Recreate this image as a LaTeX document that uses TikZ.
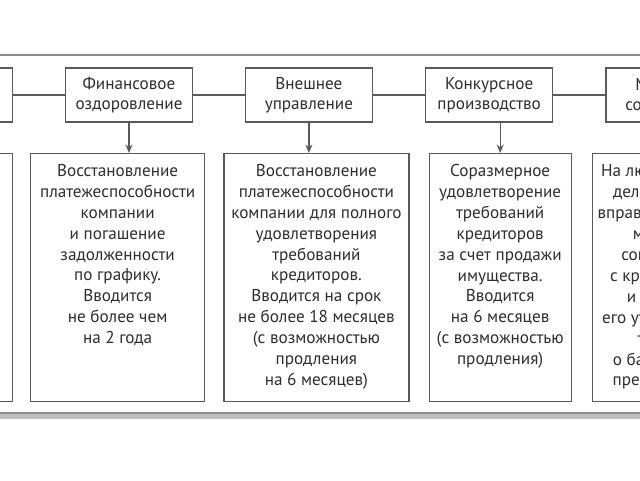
\documentclass[tikz,border=0pt]{standalone}
\usepackage{fontspec}
\setmainfont{PT Sans}
\usepackage{tikz}
\usetikzlibrary{positioning, shadows, arrows.meta}
\definecolor{boxline}{HTML}{5A5A5A}
\definecolor{txt}{HTML}{2E2E2E}
\definecolor{framegray}{HTML}{8C8C8C}
\tikzstyle{stage} = [rectangle, minimum width=3.175cm, minimum height=1.35cm, align=center, draw=boxline, line width=0.9pt, text=txt, font=\fontsize{12.2}{14.2}\selectfont]
\tikzstyle{info} = [rectangle, minimum height=6.2cm, draw=boxline, line width=0.9pt]
\tikzstyle{infotext} = [align=center, text=txt, inner sep=0pt, font=\fontsize{12.2}{14.9}\selectfont]

\begin{document}
\begin{tikzpicture}
		\path[use as bounding box, clip] (0,0) rectangle (16,-12);
		\draw[framegray, line width=1.4pt, fill=white, drop shadow={shadow xshift=0pt, shadow yshift=-4pt, opacity=0.5}] (-1,-1.375) rectangle (17,-10.325);
		% stages
		\node (Fin)[stage] at (3.225,-2.375) {Финансовое\\оздоровление};
		\node (Obs)[stage, left = 1.3cm of Fin] {};
		\node (Ext)[stage, right = 1.29cm of Fin] {Внешнее\\управление};
		\node (Konk)[stage, right = 1.3cm of Ext] {Конкурсное\\производство};
		\node (Mir)[stage, right = 1.3cm of Konk] {Мировое\\соглашение};
		\draw [boxline, line width=0.9pt] (Obs) -- (Fin) -- (Ext) -- (Konk) -- (Mir);
		% descriptions
		\node (Fin Info)[info, minimum width=4.35cm, anchor=north west] at (0.75,-3.825) {};
		\node (Obs Info)[info, minimum width=4cm, left = 0.425cm of Fin Info] {};
		\node (Ext Info)[info, minimum width=4.625cm, right = 0.45cm of Fin Info] {};
		\node (Konk Info)[info, minimum width=3.55cm, right = 0.475cm of Ext Info] {};
		\node (Mir Info)[info, minimum width=3.65cm, right = 0.5cm of Konk Info] {};
		\node (Fin Text)[infotext, below = 0.27cm of Fin Info.north]{Восстановление\\платежеспособности\\компании\\и погашение\\задолженности\\по графику.\\Вводится\\не более чем\\на 2 года};
		\node (Ext Text)[infotext, below = 0.27cm of Ext Info.north]{Восстановление\\платежеспособности\\компании для полного\\удовлетворения\\требований\\кредиторов.\\Вводится на срок\\не более 18 месяцев\\(с возможностью\\продления\\на 6 месяцев)};
		\node (Konk Text)[infotext, below = 0.27cm of Konk Info.north]{Соразмерное\\удовлетворение\\требований\\кредиторов\\за счет продажи\\имущества.\\Вводится\\на 6 месяцев\\(с возможностью\\продления)};
		\node (Mir Text)[infotext, below = 0.27cm of Mir Info.north]{На любой стадии\\дела должник\\вправе заключить\\мировое\\соглашение\\с кредиторами\\и в случае\\его утверждения\\то дело\\о банкротстве\\прекращается};
		\draw [-{Stealth[length=6pt, width=5pt]}, boxline, line width=0.9pt] (Fin.south) -- (Fin.south |- Fin Info.north);
		\draw [-{Stealth[length=6pt, width=5pt]}, boxline, line width=0.9pt] (Ext.south) -- (Ext.south |- Ext Info.north);
		\draw [-{Stealth[length=6pt, width=5pt]}, boxline, line width=0.9pt] (Konk Info.north |- Konk.south) -- (Konk Info.north);
	\end{tikzpicture}
\end{document}
